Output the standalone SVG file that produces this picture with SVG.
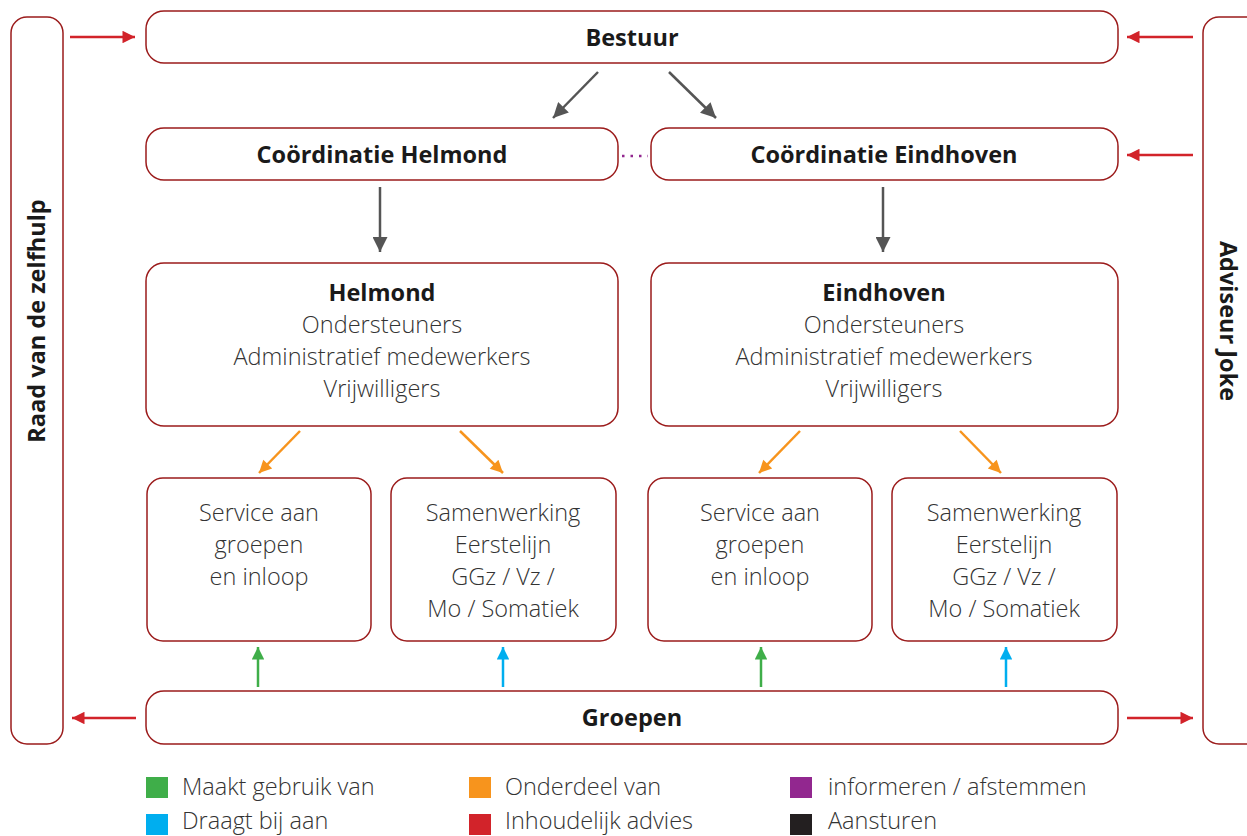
<svg xmlns="http://www.w3.org/2000/svg" width="1247" height="836" viewBox="0 0 1247 836">
<style>
.box{fill:#fff;stroke:#9b1b1b;stroke-width:1.5}
.b{font-family:"Open Sans","Liberation Sans",sans-serif;font-weight:700;font-size:23.5px;fill:#1a1a1a;text-anchor:middle}
.t{font-family:"Open Sans","Liberation Sans",sans-serif;font-weight:300;font-size:23.5px;fill:#333;text-anchor:middle}
.l{font-family:"Open Sans","Liberation Sans",sans-serif;font-weight:300;font-size:23.5px;fill:#333}
.red{stroke:#d2232a;stroke-width:2.5;fill:none}
.gray{stroke:#555;stroke-width:2.5;fill:none}
.or{stroke:#f7941d;stroke-width:2.5;fill:none}
.gr{stroke:#3fae49;stroke-width:2.5;fill:none}
.bl{stroke:#00aeef;stroke-width:2.5;fill:none}
</style>
<defs>
<marker id="mr" viewBox="0 0 10 10" refX="10" refY="5" markerWidth="6" markerHeight="5" markerUnits="strokeWidth" orient="auto"><path d="M0,0L10,5L0,10z" fill="#d2232a"/></marker>
<marker id="mg" viewBox="0 0 10 10" refX="10" refY="5" markerWidth="7" markerHeight="6" markerUnits="strokeWidth" orient="auto"><path d="M0,0L10,5L0,10z" fill="#555"/></marker>
<marker id="mo" viewBox="0 0 10 10" refX="10" refY="5" markerWidth="6" markerHeight="5" markerUnits="strokeWidth" orient="auto"><path d="M0,0L10,5L0,10z" fill="#f7941d"/></marker>
<marker id="mgr" viewBox="0 0 10 10" refX="10" refY="5" markerWidth="6" markerHeight="5" markerUnits="strokeWidth" orient="auto"><path d="M0,0L10,5L0,10z" fill="#3fae49"/></marker>
<marker id="mb" viewBox="0 0 10 10" refX="10" refY="5" markerWidth="6" markerHeight="5" markerUnits="strokeWidth" orient="auto"><path d="M0,0L10,5L0,10z" fill="#00aeef"/></marker>
</defs>
<rect width="1247" height="836" fill="#fff"/>

<g id="raad"><rect class="box" x="11" y="17" width="52" height="727" rx="16"/>
<text class="b" transform="translate(45,321) rotate(-90)">Raad van de zelfhulp</text></g>
<g id="adviseur"><rect class="box" x="1203" y="17" width="60" height="727" rx="16"/>
<text class="b" transform="translate(1220,321) rotate(90)">Adviseur Joke</text></g>
<g id="bestuur"><rect class="box" x="146" y="11" width="972" height="52" rx="18"/><text class="b" x="632" y="46">Bestuur</text></g>
<g id="coord-helmond"><rect class="box" x="146" y="128" width="472" height="52" rx="18"/><text class="b" x="382" y="163">Coördinatie Helmond</text></g>
<g id="coord-eindhoven"><rect class="box" x="651" y="128" width="467" height="52" rx="18"/><text class="b" x="884" y="163">Coördinatie Eindhoven</text></g>
<g id="helmond"><rect class="box" x="146" y="263" width="472" height="163" rx="18"/>
<text class="b" x="382" y="301">Helmond</text>
<text class="t" x="382" y="333">Ondersteuners</text>
<text class="t" x="382" y="365">Administratief medewerkers</text>
<text class="t" x="382" y="397">Vrijwilligers</text></g>
<g id="eindhoven"><rect class="box" x="651" y="263" width="467" height="163" rx="18"/>
<text class="b" x="884" y="301">Eindhoven</text>
<text class="t" x="884" y="333">Ondersteuners</text>
<text class="t" x="884" y="365">Administratief medewerkers</text>
<text class="t" x="884" y="397">Vrijwilligers</text></g>
<g id="service-h"><rect class="box" x="147" y="478" width="224" height="163" rx="16"/>
<text class="t" x="259" y="521">Service aan</text><text class="t" x="259" y="553">groepen</text><text class="t" x="259" y="585">en inloop</text></g>
<g id="samen-h"><rect class="box" x="391" y="478" width="225" height="163" rx="16"/>
<text class="t" x="503" y="521">Samenwerking</text><text class="t" x="503" y="553">Eerstelijn</text><text class="t" x="503" y="585">GGz / Vz /</text><text class="t" x="503" y="617">Mo / Somatiek</text></g>
<g id="service-e"><rect class="box" x="648" y="478" width="224" height="163" rx="16"/>
<text class="t" x="760" y="521">Service aan</text><text class="t" x="760" y="553">groepen</text><text class="t" x="760" y="585">en inloop</text></g>
<g id="samen-e"><rect class="box" x="892" y="478" width="225" height="163" rx="16"/>
<text class="t" x="1004" y="521">Samenwerking</text><text class="t" x="1004" y="553">Eerstelijn</text><text class="t" x="1004" y="585">GGz / Vz /</text><text class="t" x="1004" y="617">Mo / Somatiek</text></g>
<g id="groepen"><rect class="box" x="146" y="691" width="972" height="53" rx="18"/><text class="b" x="632" y="726">Groepen</text></g>

<g id="connectors">
<line class="red" x1="70" y1="37" x2="135" y2="37" marker-end="url(#mr)"/>
<line class="red" x1="1193" y1="37" x2="1127" y2="37" marker-end="url(#mr)"/>
<line class="red" x1="1193" y1="155" x2="1127" y2="155" marker-end="url(#mr)"/>
<line class="red" x1="136" y1="718" x2="72" y2="718" marker-end="url(#mr)"/>
<line class="red" x1="1127" y1="718" x2="1193" y2="718" marker-end="url(#mr)"/>
<line class="gray" x1="598" y1="72" x2="553" y2="118" marker-end="url(#mg)"/>
<line class="gray" x1="669" y1="72" x2="716" y2="118" marker-end="url(#mg)"/>
<line class="gray" x1="380" y1="187" x2="380" y2="252" marker-end="url(#mg)"/>
<line class="gray" x1="883" y1="187" x2="883" y2="252" marker-end="url(#mg)"/>
<line x1="622" y1="156" x2="648" y2="156" stroke="#92278f" stroke-width="2.5" stroke-dasharray="2.5,6"/>
<line class="or" x1="300" y1="431" x2="259" y2="473" marker-end="url(#mo)"/>
<line class="or" x1="460" y1="431" x2="503" y2="473" marker-end="url(#mo)"/>
<line class="or" x1="800" y1="431" x2="759" y2="473" marker-end="url(#mo)"/>
<line class="or" x1="960" y1="431" x2="1001" y2="473" marker-end="url(#mo)"/>
<line class="gr" x1="258" y1="687" x2="258" y2="647" marker-end="url(#mgr)"/>
<line class="gr" x1="761" y1="687" x2="761" y2="647" marker-end="url(#mgr)"/>
<line class="bl" x1="503" y1="687" x2="503" y2="647" marker-end="url(#mb)"/>
<line class="bl" x1="1006" y1="687" x2="1006" y2="647" marker-end="url(#mb)"/>
</g>

<g id="legend">
<rect x="146" y="777" width="22" height="21" fill="#3fae49"/><text class="l" x="182" y="795">Maakt gebruik van</text>
<rect x="146" y="814" width="22" height="21" fill="#00aeef"/><text class="l" x="182" y="829">Draagt bij aan</text>
<rect x="469" y="777" width="22" height="21" fill="#f7941d"/><text class="l" x="505" y="795">Onderdeel van</text>
<rect x="469" y="814" width="22" height="21" fill="#d2232a"/><text class="l" x="505" y="829">Inhoudelijk advies</text>
<rect x="790" y="777" width="22" height="21" fill="#92278f"/><text class="l" x="828" y="795">informeren / afstemmen</text>
<rect x="790" y="814" width="22" height="21" fill="#231f20"/><text class="l" x="828" y="829">Aansturen</text>
</g>
</svg>
